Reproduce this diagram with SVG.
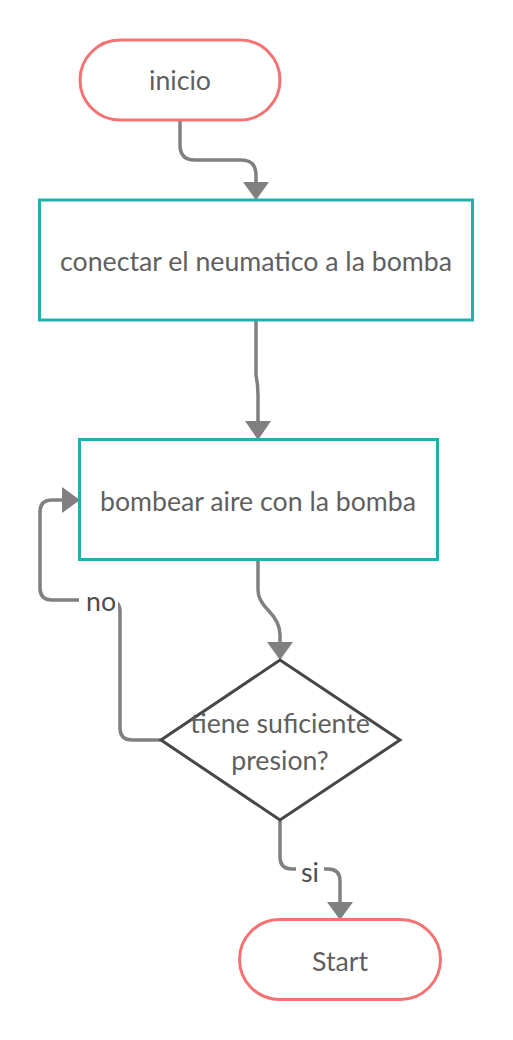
<svg xmlns="http://www.w3.org/2000/svg" width="513" height="1040" viewBox="0 0 513 1040">
<defs>
<style>
.term{fill:#fff;stroke:#F47372;stroke-width:3}
.proc{fill:#fff;stroke:#22B0AA;stroke-width:3}
.dec{fill:#fff;stroke:#474747;stroke-width:3}
.lbl{font-family:Lato,"Open Sans",sans-serif;font-size:26.7px;fill:#5f5f5f;text-anchor:middle}
.edge{fill:none;stroke:#808080;stroke-width:3.5}
.elbl{font-family:Lato,"Open Sans",sans-serif;font-size:26.7px;fill:#4d4d4d;text-anchor:middle}
.ah{fill:#808080}
</style>
</defs>
<rect width="513" height="1040" fill="#fff"/>
<g id="connectors">
<path class="edge" d="M180,120 V145 Q180,160 195,160 H241 Q256,160 256,175 V184"/>
<path class="ah" d="M243,182 L269,182 L256,200 Z"/>
<path class="edge" d="M256,320 V375 Q258,385 258,395 V424"/>
<path class="ah" d="M245,421 L271,421 L258,440 Z"/>
<path class="edge" d="M258,559 V590 Q258,600 268,610 Q280,622 280,635 V645"/>
<path class="ah" d="M267,642 L293,642 L280,660 Z"/>
<path class="edge" d="M161,740 H132 Q120,740 120,728 V612 Q120,600 108,600 H52 Q40,600 40,588 V512 Q40,500 52,500 H64"/>
<path class="ah" d="M62,487 L62,513 L80,500 Z"/>
<rect x="79" y="585" width="39" height="37" fill="#fff"/>
<text class="elbl" x="101" y="611">no</text>
<path class="edge" d="M280,820 V857 Q280,869 292,869 H328 Q340,869 340,881 V905"/>
<rect x="296" y="855" width="28" height="34" fill="#fff"/>
<path class="ah" d="M327,902 L353,902 L340,920 Z"/>
<text class="elbl" x="310" y="882">si</text>
</g>
<g id="inicio">
<rect class="term" x="80" y="40" width="200" height="80" rx="40"/>
<text class="lbl" x="180" y="90">inicio</text>
</g>
<g id="conectar">
<rect class="proc" x="39.5" y="200" width="433" height="120"/>
<text class="lbl" x="256" y="271">conectar el neumatico a la bomba</text>
</g>
<g id="bombear">
<rect class="proc" x="79.5" y="439.5" width="358" height="120"/>
<text class="lbl" x="258" y="511">bombear aire con la bomba</text>
</g>
<g id="decision">
<polygon class="dec" points="280,660 400,740 280,820 161,740"/>
<text class="lbl" x="280" y="733">tiene suficiente</text>
<text class="lbl" x="280" y="770">presion?</text>
</g>
<g id="start">
<rect class="term" x="239.5" y="919.5" width="201" height="80" rx="40"/>
<text class="lbl" x="340" y="971">Start</text>
</g>
</svg>
